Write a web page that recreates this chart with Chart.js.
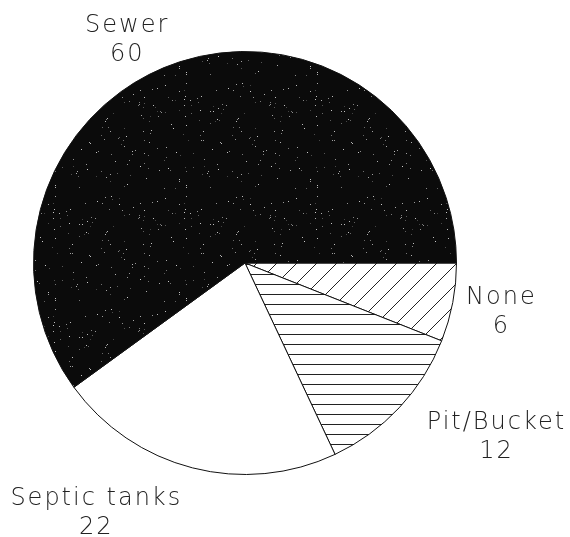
<!DOCTYPE html>
<html>
<head>
<meta charset="utf-8">
<script src="https://cdn.jsdelivr.net/npm/chart.js@4/dist/chart.umd.min.js"></script>
<style>
  html, body { margin: 0; padding: 0; background: #fff; }
  #wrap { width: 570px; height: 537px; position: relative; }
</style>
</head>
<body>
<div id="wrap"><canvas id="pie"></canvas></div>
<script>
// ---- data (clockwise from 3 o'clock) ----
const categories = ["None", "Pit/Bucket", "Septic tanks", "Sewer"];
const values = [6, 12, 22, 60];

// label anchors, in units of the pie radius from its centre
const labelOffsets = [[1.212, 0.23], [1.189, 0.82], [-0.703, 1.18], [-0.557, -1.056]];

// ---- fill patterns ----
function makeTile(w, h, draw) {
  const c = document.createElement("canvas");
  c.width = w; c.height = h;
  const ctx = c.getContext("2d");
  draw(ctx, w, h);
  return document.createElement("canvas").getContext("2d").createPattern(c, "repeat");
}

// black with faint white speckle (fixed LCG so the texture is stable)
const speckle = makeTile(131, 113, (ctx, w, h) => {
  ctx.fillStyle = "#0b0b0b";
  ctx.fillRect(0, 0, w, h);
  let s = 987;
  const rnd = () => (s = (s * 1103515245 + 12345) % 2147483648) / 2147483648;
  for (let i = 0; i < 150; i++) {
    const a = 0.2 + rnd() * 0.6;
    ctx.fillStyle = `rgba(255,255,255,${a.toFixed(2)})`;
    ctx.fillRect(Math.floor(rnd() * w), Math.floor(rnd() * h), 1, 1);
  }
});

// "/" diagonal hatch
const diagonal = makeTile(20, 20, (ctx, w, h) => {
  ctx.fillStyle = "#fff";
  ctx.fillRect(0, 0, w, h);
  ctx.strokeStyle = "#222";
  ctx.lineWidth = 1;
  ctx.beginPath();
  for (let k = -1; k <= 1; k++) {
    ctx.moveTo(k * w, h);
    ctx.lineTo(k * w + w, 0);
  }
  ctx.stroke();
});

// horizontal hatch
const horizontal = makeTile(10, 10, (ctx, w, h) => {
  ctx.fillStyle = "#fff";
  ctx.fillRect(0, 0, w, h);
  ctx.fillStyle = "#222";
  ctx.fillRect(0, 4, w, 1);
});

const fills = [diagonal, horizontal, "#ffffff", speckle];

// ---- labels next to slices ----
const sliceLabels = {
  id: "sliceLabels",
  afterDraw(chart) {
    const ctx = chart.ctx;
    const arcs = chart.getDatasetMeta(0).data;
    ctx.save();
    ctx.font = "200 24px 'DejaVu Sans'";
    ctx.letterSpacing = "2px";
    ctx.fillStyle = "#222";
    ctx.textAlign = "center";
    ctx.textBaseline = "middle";
    arcs.forEach((arc, i) => {
      const r = arc.outerRadius;
      const x = arc.x + labelOffsets[i][0] * r;
      const y = arc.y + labelOffsets[i][1] * r;
      ctx.fillText(categories[i], x, y - 14);
      ctx.fillText(String(values[i]), x, y + 15);
    });
    ctx.restore();
  }
};

new Chart(document.getElementById("pie"), {
  type: "pie",
  data: {
    labels: categories,
    datasets: [{
      data: values,
      backgroundColor: fills,
      borderColor: "#111",
      borderWidth: 1
    }]
  },
  options: {
    responsive: true,
    maintainAspectRatio: false,
    animation: false,
    rotation: 90,
    events: [],
    layout: { padding: { left: 33, right: 113, top: 51, bottom: 62 } },
    plugins: {
      legend: { display: false },
      tooltip: { enabled: false }
    }
  },
  plugins: [sliceLabels]
});
</script>
</body>
</html>
